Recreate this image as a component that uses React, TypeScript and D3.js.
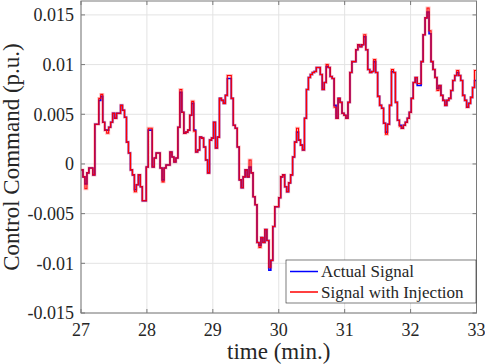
import React from "react";
import * as d3 from "d3";

const xTicks = [27, 28, 29, 30, 31, 32, 33];
const yTicks = [-0.015, -0.01, -0.005, 0, 0.005, 0.01, 0.015];
const yTickLabels = ["-0.015", "-0.01", "-0.005", "0", "0.005", "0.01", "0.015"];
const startTime = 27;
const endTime = 33;
const sampleStep = 0.03;
const seriesNames = ["Actual Signal", "Signal with Injection"];
const seriesColors = ["#0000ff", "#ff0000"];

const actualSignal = [
  -0.0006, -0.0013, -0.002, -0.0009, -0.0004, -0.0004, -0.0011, 0.004, 0.004, 0.0064,
  0.0068, 0.0042, 0.0034, 0.0034, 0.0037, 0.0042, 0.0051, 0.0046, 0.0051, 0.0051,
  0.0059, 0.0054, 0.0047, 0.0022, 0.0011, -0.0006, -0.0011, -0.0026, -0.0021, -0.0011,
  -0.0023, -0.0037, -0.0037, -0.0003, 0.0034, 0.0034, -0.0003, 0.0006, 0.0011, 0.0011,
  -0.0004, -0.0016, -0.0004, -0.0001, -0.0001, 0.0012, 0.0007, 0.0002, 0.0006, 0.0037,
  0.0072, 0.0052, 0.0031, 0.0032, 0.0034, 0.0049, 0.0061, 0.0034, 0.0012, 0.0014,
  0.0027, 0.0026, 0.0017, 0.0004, -0.0009, 0.0024, 0.0026, 0.0042, 0.0016, 0.0027,
  0.0066, 0.0064, 0.0061, 0.0069, 0.0086, 0.0086, 0.0066, 0.0039, 0.0036, 0.0017,
  -0.0016, -0.0024, -0.0013, -0.0006, -0.0013, -0.0003, -0.0009, -0.0033, -0.0041, -0.0079,
  -0.0082, -0.0074, -0.0079, -0.0066, -0.0077, -0.0107, -0.0097, -0.0063, -0.0043, -0.0043,
  -0.0034, -0.0013, -0.0011, -0.0023, -0.0028, -0.0019, -0.0011, 0.0007, 0.0022, 0.0032,
  0.0024, 0.0019, 0.0014, 0.0046, 0.0075, 0.0087, 0.009, 0.0092, 0.0093, 0.0097,
  0.0097, 0.009, 0.0075, 0.0082, 0.0098, 0.0097, 0.0088, 0.0086, 0.0059, 0.0046,
  0.0066, 0.0062, 0.0051, 0.0049, 0.0046, 0.0062, 0.0092, 0.0103, 0.0103, 0.0115,
  0.012, 0.0118, 0.012, 0.0128, 0.0115, 0.0095, 0.0092, 0.0093, 0.0103, 0.0092,
  0.0068, 0.0059, 0.0056, 0.0041, 0.0032, 0.004, 0.0059, 0.0093, 0.0092, 0.0062,
  0.0044, 0.0039, 0.0036, 0.0039, 0.0042, 0.0046, 0.0052, 0.0066, 0.0082, 0.0087,
  0.0079, 0.0079, 0.0103, 0.013, 0.0147, 0.0153, 0.0131, 0.0103, 0.0095, 0.0087,
  0.0076, 0.0079, 0.0069, 0.0064, 0.0059, 0.0064, 0.0066, 0.0074, 0.0084, 0.0089,
  0.0092, 0.0089, 0.0084, 0.0069, 0.0064, 0.0057, 0.0061, 0.0067, 0.0077, 0.0084,
];

const injectedSignal = [
  -0.0006, -0.0013, -0.0025, -0.0009, -0.0004, -0.0004, -0.0011, 0.004, 0.004, 0.0066,
  0.007, 0.0042, 0.0034, 0.0031, 0.0037, 0.0042, 0.0051, 0.0046, 0.0051, 0.0051,
  0.0059, 0.0054, 0.0047, 0.0022, 0.0011, -0.0006, -0.0011, -0.0028, -0.0021, -0.0011,
  -0.0023, -0.0037, -0.0037, -0.0003, 0.0036, 0.0036, -0.0003, 0.0006, 0.0011, 0.0011,
  -0.0004, -0.0018, -0.0004, -0.0001, -0.0001, 0.0012, 0.0007, 0.0002, 0.0006, 0.0037,
  0.0075, 0.0052, 0.0031, 0.0032, 0.0034, 0.0049, 0.0063, 0.0033, 0.0012, 0.0014,
  0.0027, 0.0026, 0.0017, 0.0004, -0.0009, 0.0024, 0.0026, 0.0042, 0.0016, 0.0027,
  0.0066, 0.0064, 0.0061, 0.0069, 0.0089, 0.0089, 0.0066, 0.0039, 0.0036, 0.0017,
  -0.0016, -0.0024, -0.0013, -0.0006, -0.0013, 0.0004, -0.0009, -0.0033, -0.0041, -0.0079,
  -0.0084, -0.0074, -0.0079, -0.0066, -0.0077, -0.0104, -0.0097, -0.0063, -0.0043, -0.0043,
  -0.0034, -0.0013, -0.0011, -0.0023, -0.0028, -0.0019, -0.0011, 0.0007, 0.0022, 0.0036,
  0.0024, 0.0019, 0.0014, 0.0046, 0.0075, 0.0087, 0.009, 0.0092, 0.0093, 0.0097,
  0.0097, 0.009, 0.0075, 0.0082, 0.01, 0.0097, 0.0088, 0.0086, 0.0057, 0.0046,
  0.0066, 0.0062, 0.0051, 0.0049, 0.0046, 0.0062, 0.0092, 0.0103, 0.0103, 0.0115,
  0.012, 0.0118, 0.012, 0.013, 0.0115, 0.0095, 0.0092, 0.0093, 0.0105, 0.0092,
  0.0068, 0.0059, 0.0056, 0.0041, 0.003, 0.004, 0.0059, 0.0095, 0.0092, 0.0062,
  0.0044, 0.0038, 0.0036, 0.0039, 0.0042, 0.0046, 0.0052, 0.0066, 0.0082, 0.0087,
  0.0081, 0.0081, 0.0103, 0.013, 0.0147, 0.0157, 0.0134, 0.0103, 0.0095, 0.0087,
  0.0074, 0.0079, 0.0069, 0.0064, 0.0059, 0.0064, 0.0066, 0.0074, 0.0084, 0.0089,
  0.0094, 0.0089, 0.0084, 0.0069, 0.0064, 0.0057, 0.0061, 0.0067, 0.0077, 0.0094,
];

const FONT = "'Liberation Serif', 'Times New Roman', serif";

export default function App() {
  const W = 485;
  const H = 364;
  const left = 81;
  const right = 476.5;
  const top = 1;
  const bottom = 313;

  const x = d3.scaleLinear().domain([startTime, endTime]).range([left, right]);
  const y = d3.scaleLinear().domain([-0.015, 0.0164]).range([bottom, top]);

  const toPoints = (vals: number[]) => {
    const pts: [number, number][] = vals.map((v, i) => [startTime + i * sampleStep, v]);
    pts.push([endTime, vals[vals.length - 1]]);
    return pts;
  };
  const line = d3
    .line<[number, number]>()
    .x((d) => x(d[0]))
    .y((d) => y(d[1]))
    .curve(d3.curveStepAfter);

  const actualPath = line(toPoints(actualSignal)) || "";
  const injectedPath = line(toPoints(injectedSignal)) || "";

  const axisColor = "#7a7a7a";
  const gridColor = "#e3e3e3";
  const textColor = "#262626";
  const tickLen = 4;

  const legX = 286;
  const legY = 260;
  const legW = 190;
  const legH = 43;

  return (
    <svg
      width={W}
      height={H}
      style={{ position: "absolute", left: 0, top: 0, background: "#fff" }}
      fontFamily={FONT}
    >
      <defs>
        <clipPath id="plotClip">
          <rect x={left} y={top} width={right - left} height={bottom - top} />
        </clipPath>
      </defs>
      <rect x={0} y={0} width={W} height={H} fill="#fff" />
      {/* grid */}
      {xTicks.map((t) => (
        <line key={"gx" + t} x1={x(t)} x2={x(t)} y1={top} y2={bottom} stroke={gridColor} strokeWidth={1} />
      ))}
      {yTicks.map((t) => (
        <line key={"gy" + t} x1={left} x2={right} y1={y(t)} y2={y(t)} stroke={gridColor} strokeWidth={1} />
      ))}
      {/* series */}
      <g clipPath="url(#plotClip)" fill="none" strokeLinejoin="miter">
        <path d={actualPath} stroke={seriesColors[0]} strokeWidth={1.6} />
        <path d={injectedPath} stroke={seriesColors[1]} strokeOpacity={0.25} strokeWidth={3} />
        <path d={injectedPath} stroke={seriesColors[1]} strokeWidth={1.1} />
      </g>
      {/* box */}
      <rect x={left} y={top} width={right - left} height={bottom - top} fill="none" stroke={axisColor} strokeWidth={1} />
      {/* ticks */}
      {xTicks.map((t) => (
        <g key={"tx" + t}>
          <line x1={x(t)} x2={x(t)} y1={bottom} y2={bottom - tickLen} stroke={axisColor} />
          <line x1={x(t)} x2={x(t)} y1={top} y2={top + tickLen} stroke={axisColor} />
          <text x={x(t)} y={336} textAnchor="middle" fontSize={18} fill={textColor}>
            {t}
          </text>
        </g>
      ))}
      {yTicks.map((t, i) => (
        <g key={"ty" + t}>
          <line x1={left} x2={left + tickLen} y1={y(t)} y2={y(t)} stroke={axisColor} />
          <line x1={right} x2={right - tickLen} y1={y(t)} y2={y(t)} stroke={axisColor} />
          <text x={74} y={y(t) + 6.3} textAnchor="end" fontSize={18} fill={textColor}>
            {yTickLabels[i]}
          </text>
        </g>
      ))}
      {/* axis labels */}
      <text x={(left + right) / 2} y={358.5} textAnchor="middle" fontSize={23} fill={textColor}>
        time (min.)
      </text>
      <text
        transform={`translate(19, ${(top + bottom) / 2}) rotate(-90)`}
        textAnchor="middle"
        fontSize={23}
        fill={textColor}
      >
        Control Command (p.u.)
      </text>
      {/* legend */}
      <rect x={legX} y={legY} width={legW} height={legH} fill="#fff" stroke="#262626" strokeWidth={0.6} />
      {seriesNames.map((name, i) => {
        const cy = legY + 11.5 + i * 20.5;
        return (
          <g key={name}>
            <line x1={legX + 4} x2={legX + 32} y1={cy} y2={cy} stroke={seriesColors[i]} strokeWidth={1.5} />
            <text x={legX + 35} y={cy + 5.5} fontSize={17} fill={textColor}>
              {name}
            </text>
          </g>
        );
      })}
    </svg>
  );
}
